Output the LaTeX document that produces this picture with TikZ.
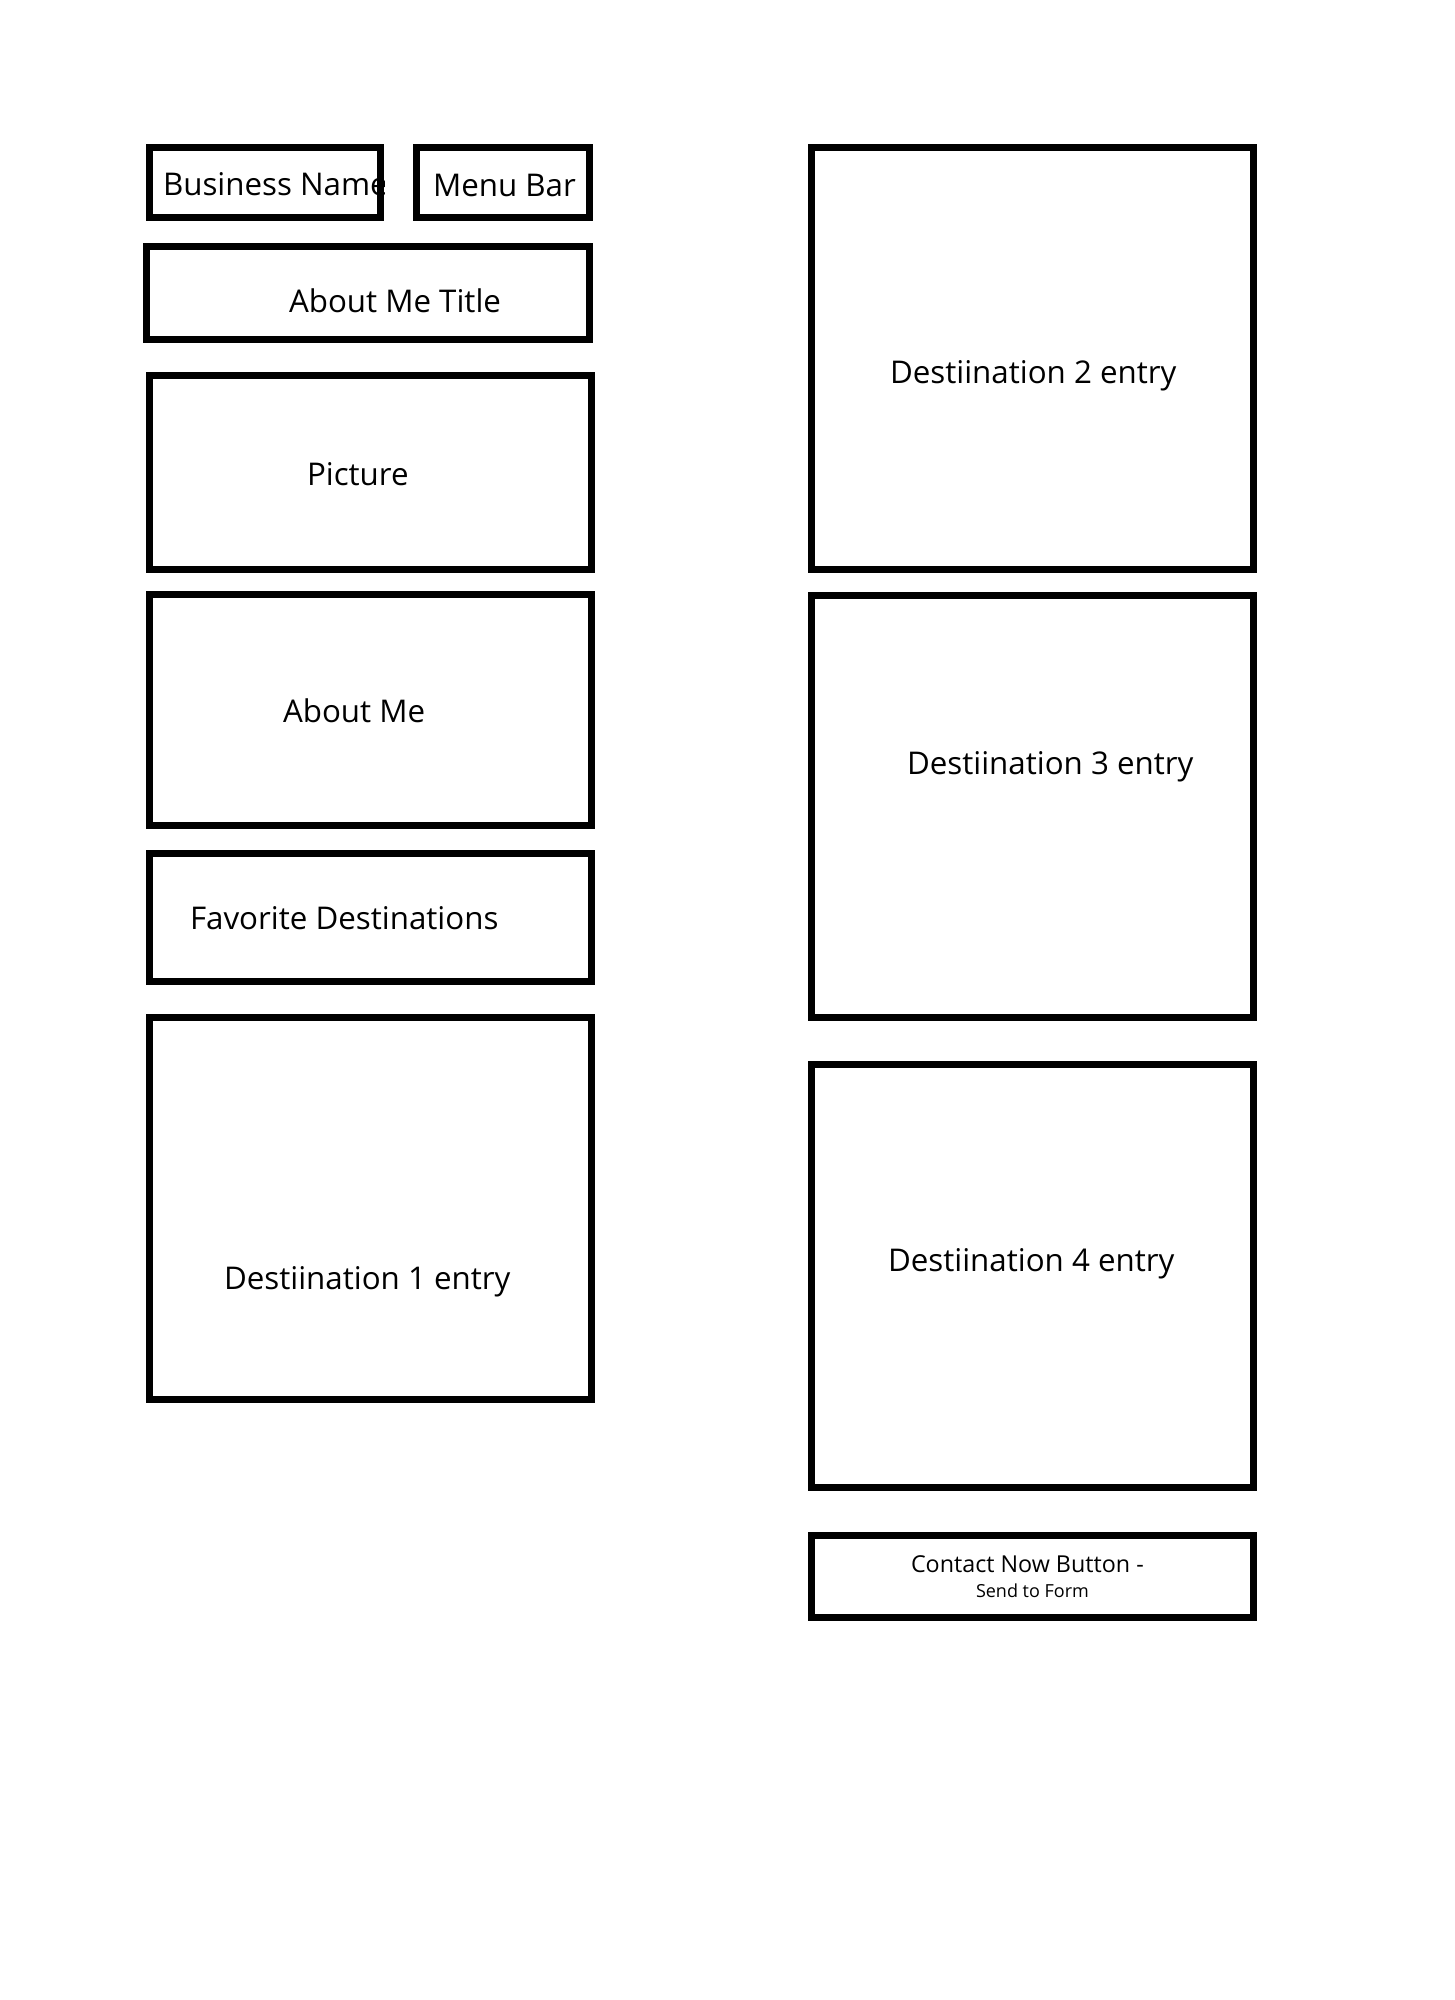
\documentclass[tikz,border=0pt]{standalone}
\usepackage{fontspec}
\setmainfont{Open Sans}
\begin{document}
\begin{tikzpicture}[x=1pt,y=-1pt,
  wbox/.style={draw=black, line width=7pt, inner sep=0pt, outer sep=0pt, fill=none},
  wtext/.style={anchor=base west, inner sep=0pt, outer sep=0pt, font=\fontsize{31.3}{36}\selectfont},
  wsmall/.style={anchor=base west, inner sep=0pt, outer sep=0pt, font=\fontsize{23.3}{26}\selectfont},
  wtiny/.style={anchor=base west, inner sep=0pt, outer sep=0pt, font=\fontsize{18}{22}\selectfont}]
\fill[white] (0,0) rectangle (1455,2000);
\useasboundingbox (0,0) rectangle (1455,2000);
% Business name (text clipped by its box)
\begin{scope}
  \clip (146,144) rectangle (384,221);
  \node[wtext] (bnameT) at (163,195) {Business Name};
\end{scope}
\node[wbox, minimum width=231pt, minimum height=70pt] (bname) at (265,182.5) {};
% Menu bar
\node[wbox, minimum width=173pt, minimum height=70pt] (menu) at (503,182.5) {};
\node[wtext] (menuT) at (433,196) {Menu Bar};
% About me title
\node[wbox, minimum width=443pt, minimum height=93pt] (amt) at (368,293) {};
\node[wtext] (amtT) at (289,312) {About Me Title};
% Picture
\node[wbox, minimum width=442pt, minimum height=194pt] (pic) at (370.5,472.5) {};
\node[wtext] (picT) at (307,485) {Picture};
% About me
\node[wbox, minimum width=442pt, minimum height=231pt] (about) at (370.5,710) {};
\node[wtext] (aboutT) at (283,722) {About Me};
% Favorite destinations
\node[wbox, minimum width=442pt, minimum height=128pt] (fav) at (370.5,917.5) {};
\node[wtext] (favT) at (190,929) {Favorite Destinations};
% Destination 1
\node[wbox, minimum width=442pt, minimum height=382pt] (d1) at (370.5,1208.5) {};
\node[wtext] (d1T) at (224,1289) {Destiination 1 entry};
% Destination 2
\node[wbox, minimum width=442pt, minimum height=422pt] (d2) at (1032.5,358.5) {};
\node[wtext] (d2T) at (890,383) {Destiination 2 entry};
% Destination 3
\node[wbox, minimum width=442pt, minimum height=422pt] (d3) at (1032.5,806.5) {};
\node[wtext] (d3T) at (907,774) {Destiination 3 entry};
% Destination 4
\node[wbox, minimum width=442pt, minimum height=423pt] (d4) at (1032.5,1276) {};
\node[wtext] (d4T) at (888,1271) {Destiination 4 entry};
% Contact
\node[wbox, minimum width=442pt, minimum height=82pt] (contact) at (1032.5,1576.5) {};
\node[wsmall] (contactT) at (911,1572) {Contact Now Button -};
\node[wtiny] (contactS) at (976,1597) {Send to Form};
\end{tikzpicture}
\end{document}
